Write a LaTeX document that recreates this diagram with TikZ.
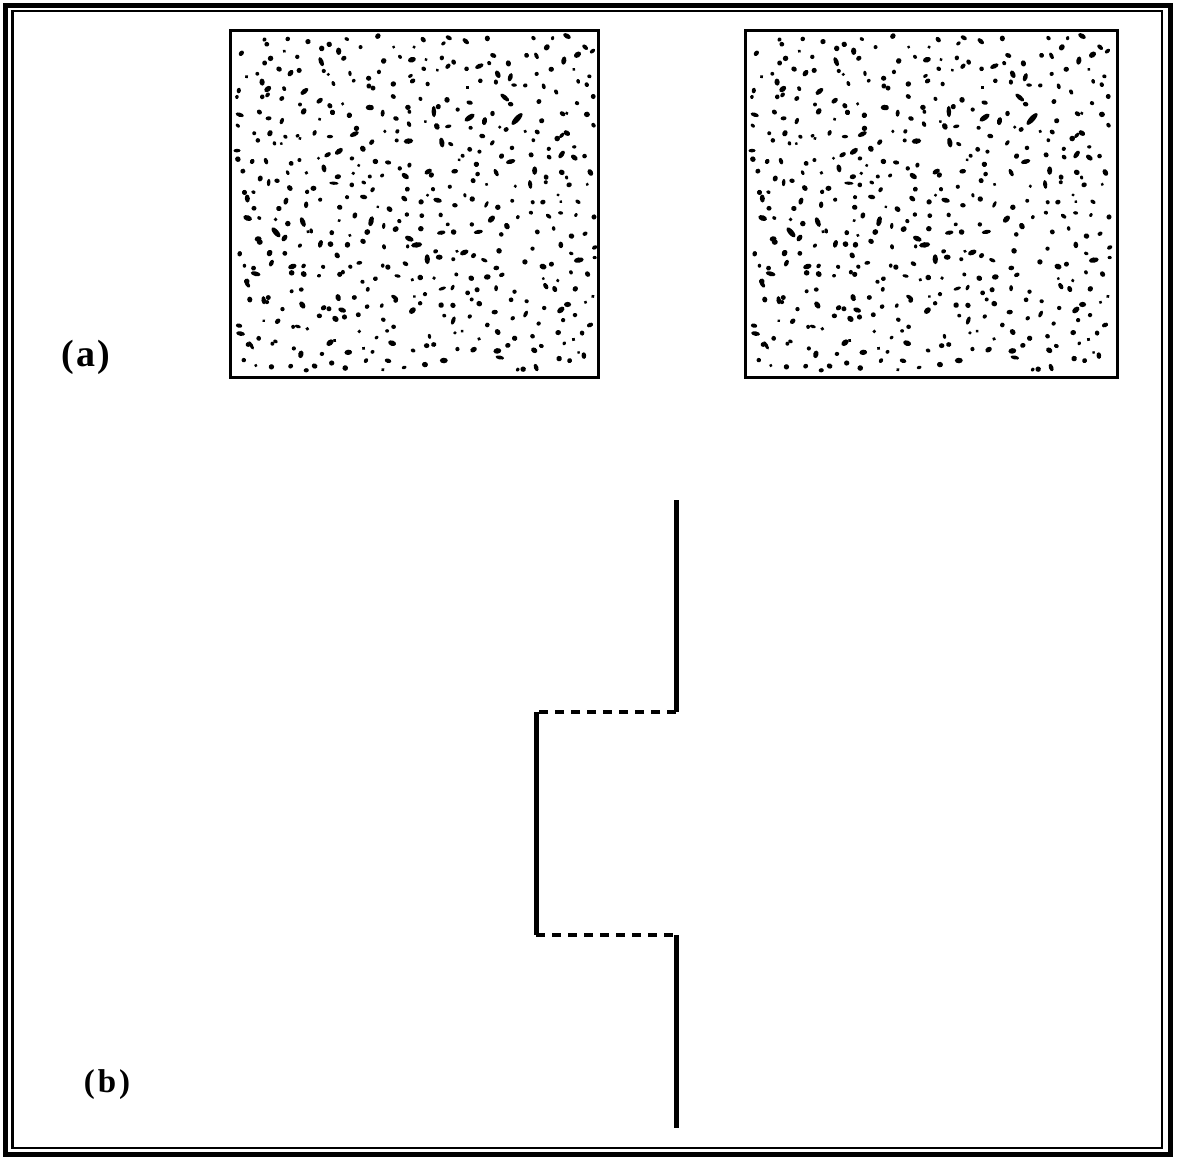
\documentclass[tikz,border=0pt]{standalone}
\usepackage{fontspec}
\setmainfont{Liberation Serif}
\newcommand\mydotfield[2]{%
  \pgfmathsetseed{271}%
  \foreach \cx in {0,...,23}{%
    \foreach \cy in {0,...,22}{%
      \pgfmathsetmacro\px{6+\cx*15+rnd*14}%
      \pgfmathsetmacro\py{6+\cy*14.6+rnd*13.5}%
      \pgfmathsetmacro\ra{1.6+1.2*rnd}%
      \pgfmathsetmacro\el{1+2.2*rnd*rnd*rnd}%
      \pgfmathsetmacro\ang{rnd*180}%
      \pgfmathsetmacro\keep{rnd}%
      \pgfmathsetmacro\sx{ifthenelse(and(and(\px>110,\px<260),and(\py>95,\py<250)),#2,0)}%
      \ifdim\keep pt<0.9pt
        \fill[rotate around={\ang:(#1+\px+\sx,30+\py)}] (#1+\px+\sx,30+\py) ellipse[x radius=\ra*\el, y radius=\ra];
      \fi
    }}}
\begin{document}
\begin{tikzpicture}[x=1pt,y=-1pt,
  frameouter/.style={line width=5pt},
  frameinner/.style={line width=2.2pt},
  panel/.style={line width=3pt},
  solidseg/.style={line width=5pt},
  dashseg/.style={line width=3.6pt, dash pattern=on 9pt off 7pt},
  lab/.style={font=\bfseries\fontsize{38}{42}\selectfont}]
\useasboundingbox (0,0) rectangle (1177,1157);
\fill[white] (0,0) rectangle (1177,1157);
\draw[frameouter] (5,5) rectangle (1170,1154);
\draw[frameinner] (12.5,11) rectangle (1162,1148);
% panels
\mydotfield{230}{0}
\mydotfield{745}{-7}
\draw[panel] (230,30) rectangle (598,377);
\draw[panel] (745,30) rectangle (1117,377);
\node[lab] (la) at (86,357) {(\kern3pt a\kern2pt)};
\node[lab,font=\bfseries\fontsize{33}{36}\selectfont] (lb) at (107,1085) {(\kern3pt b\kern3pt)};
% step line
\coordinate (p1) at (676,500);
\coordinate (p2) at (676,712);
\coordinate (p3) at (536,712);
\coordinate (p4) at (536,935);
\coordinate (p5) at (676,935);
\coordinate (p6) at (676,1128);
\draw[solidseg] (p1) -- (p2);
\draw[dashseg] (p2) -- (p3);
\draw[solidseg] (p3) -- (p4);
\draw[dashseg] (p4) -- (p5);
\draw[solidseg] (p5) -- (p6);
\end{tikzpicture}
\end{document}
